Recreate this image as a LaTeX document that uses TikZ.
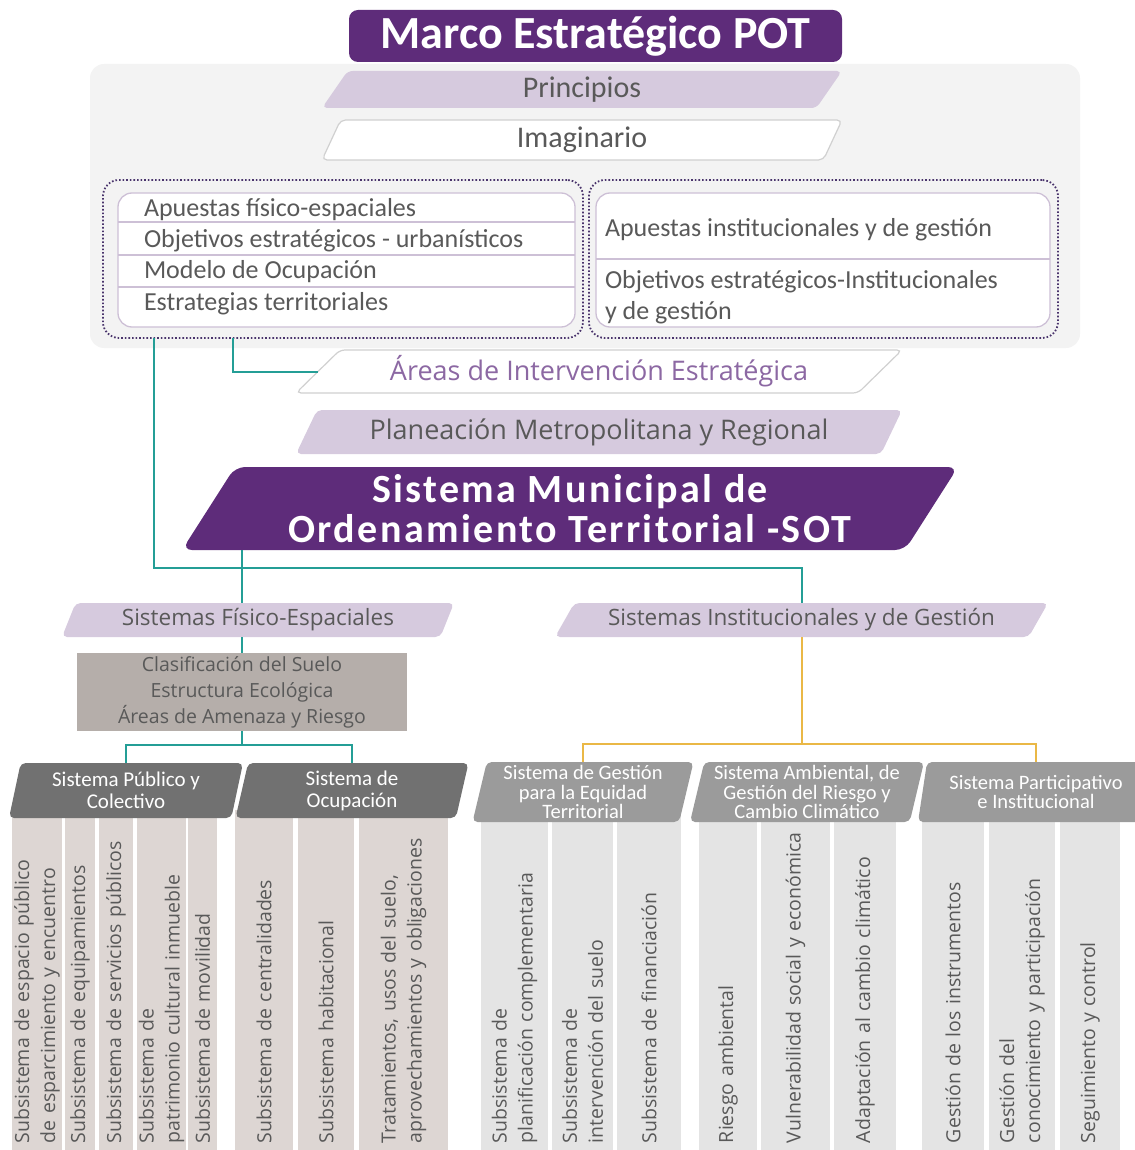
\documentclass[tikz,border=0pt]{standalone}
\usepackage{fontspec}
\setmainfont{Carlito}
\newfontfamily\osans{Open Sans}
\usetikzlibrary{shapes.geometric}
\definecolor{pot}{RGB}{94,44,122}
\definecolor{lila}{RGB}{214,202,222}
\definecolor{lilaline}{RGB}{205,192,214}
\definecolor{dotline}{RGB}{74,52,108}
\definecolor{txt}{RGB}{89,89,89}
\definecolor{aiecol}{RGB}{140,104,163}
\definecolor{panel}{RGB}{243,243,243}
\definecolor{bandline}{RGB}{208,208,208}
\definecolor{clasgray}{RGB}{181,174,170}
\definecolor{hdark}{RGB}{113,113,113}
\definecolor{hlight}{RGB}{155,155,155}
\definecolor{colL}{RGB}{221,214,211}
\definecolor{colR}{RGB}{228,228,228}
\definecolor{tealc}{RGB}{36,158,150}
\definecolor{goldc}{RGB}{234,184,70}
\begin{document}
\begin{tikzpicture}[x=1pt, y=-1pt,
  every node/.style={inner sep=2pt, outer sep=0pt, text=txt},
  band/.style={trapezium, trapezium stretches body, rounded corners=5pt},
  lilaband/.style={band, fill=lila},
  whiteband/.style={band, fill=white, draw=bandline, line width=1.2pt},
  dotbox/.style={draw=dotline, line width=1.8pt, dash pattern=on 1.6pt off 2pt, rounded corners=16pt},
  inbox/.style={draw=lilaline, line width=1.3pt, fill=white, rounded corners=14pt},
  row/.style={anchor=west, font=\fontsize{26}{31}\selectfont, align=left},
  hdrL/.style={band, fill=hdark, text=white, align=center, minimum height=55,
    trapezium left angle=74, trapezium right angle=106, font=\fontsize{21}{22}\selectfont},
  hdrR/.style={band, fill=hlight, text=white, align=center, minimum height=60, inner sep=0pt,
    trapezium left angle=75, trapezium right angle=105, font=\fontsize{20.5}{19.5}\selectfont},
  sub/.style={rotate=90, align=left, text width=326pt, minimum width=340, inner xsep=7pt,
    font=\osans\fontsize{19.5}{26}\selectfont},
  subL/.style={sub, fill=colL},
  subR/.style={sub, fill=colR},
  tealline/.style={draw=tealc, line width=2pt},
  goldline/.style={draw=goldc, line width=2pt}]
  \useasboundingbox (0,0) rectangle (1134,1150);

  \node [fill=panel, rounded corners=14pt, minimum width=990, minimum height=284] (panel) at (585,206) {};
  \node [fill=pot, rounded corners=9pt, minimum width=493, minimum height=52, text=white,
    font=\fontsize{46}{50}\selectfont\bfseries] (pot) at (595.5,36) {Marco Estratégico POT};
  \node [lilaband, trapezium left angle=49, trapezium right angle=131, minimum width=520,
    minimum height=37, font=\fontsize{30}{32}\selectfont] (prin) at (582,89.5) {Principios};
  \node [whiteband, trapezium left angle=58, trapezium right angle=122, minimum width=520,
    minimum height=40, font=\fontsize{30}{32}\selectfont] (imag) at (582,140) {Imaginario};

  \node [dotbox, minimum width=480, minimum height=158] (fisbox) at (343,259) {};
  \node [dotbox, minimum width=469, minimum height=158] (insbox) at (823.5,259) {};
  \node [inbox, minimum width=457, minimum height=134] (fisin) at (346.5,260) {};
  \node [inbox, minimum width=454, minimum height=134] (insin) at (823,260) {};
  \foreach \y in {222,255,287}
    \draw [lilaline, line width=1.2pt] (118,\y) -- (575,\y);
  \draw [lilaline, line width=1.2pt] (596,259) -- (1050,259);
  \node [row] (ap1) at (142,210) {Apuestas físico-espaciales};
  \node [row] (ap2) at (142,241) {Objetivos estratégicos - urbanísticos};
  \node [row] (ap3) at (142,272) {Modelo de Ocupación};
  \node [row] (ap4) at (142,304) {Estrategias territoriales};
  \node [row] (ap5) at (603,230) {Apuestas institucionales y de gestión};
  \node [row] (ap6) at (603,297.5) {Objetivos estratégicos-Institucionales\\y de gestión};

  \node [whiteband, trapezium left angle=39, trapezium right angle=141, minimum width=606,
    minimum height=43, text=aiecol, font=\osans\fontsize{27}{30}\selectfont] (aie) at (599,371.5)
    {Áreas de Intervención Estratégica};
  \node [lilaband, trapezium left angle=56, trapezium right angle=124, minimum width=606,
    minimum height=44, font=\osans\fontsize{27}{30}\selectfont] (pmr) at (599,432)
    {Planeación Metropolitana y Regional};
  \node [band, fill=pot, text=white, rounded corners=10pt, inner sep=1pt, align=center,
    trapezium left angle=53, trapezium right angle=127, minimum width=776, minimum height=83,
    font=\fontsize{40}{40}\selectfont\bfseries\addfontfeatures{LetterSpace=6}] (sot) at (570,508.5)
    {Sistema Municipal de\\Ordenamiento Territorial -SOT};

  \node [lilaband, trapezium left angle=63, trapezium right angle=117, minimum width=392,
    minimum height=34, font=\osans\fontsize{22.5}{26}\selectfont] (sfe) at (258,620)
    {Sistemas Físico-Espaciales};
  \node [lilaband, trapezium left angle=54, trapezium right angle=126, minimum width=493,
    minimum height=34, font=\osans\fontsize{22.5}{26}\selectfont] (sig) at (801.5,620)
    {Sistemas Institucionales y de Gestión};
  \node [fill=clasgray, minimum width=330, minimum height=78, align=center,
    font=\osans\fontsize{19.5}{26}\selectfont] (clas) at (242,692)
    {Clasificación del Suelo\\Estructura Ecológica\\Áreas de Amenaza y Riesgo};

  \node [subL, minimum height=50] (s1) at (37,980) {Subsistema de espacio público\\de esparcimiento y encuentro};
  \node [subL, minimum height=30] (s2) at (80,980) {Subsistema de equipamientos};
  \node [subL, minimum height=34] (s3) at (116,980) {Subsistema de servicios públicos};
  \node [subL, minimum height=47] (s4) at (161.5,980) {Subsistema de\\patrimonio cultural inmueble};
  \node [subL, minimum height=29] (s5) at (202.5,980) {Subsistema de movilidad};
  \node [subL, minimum height=58] (s6) at (264,980) {Subsistema de centralidades};
  \node [subL, minimum height=56] (s7) at (326,980) {Subsistema habitacional};
  \node [subL, minimum height=89] (s8) at (403.5,980) {Tratamientos, usos del suelo,\\aprovechamientos y obligaciones};
  \node [subR, minimum height=67] (s9) at (514.5,980) {Subsistema de\\planificación complementaria};
  \node [subR, minimum height=61] (s10) at (582.5,980) {Subsistema de\\intervención del suelo};
  \node [subR, minimum height=64] (s11) at (649,980) {Subsistema de financiación};
  \node [subR, minimum height=58] (s12) at (728,980) {Riesgo ambiental};
  \node [subR, minimum height=69] (s13) at (795.5,980) {Vulnerabilidad social y económica};
  \node [subR, minimum height=62] (s14) at (865,980) {Adaptación al cambio climático};
  \node [subR, minimum height=62] (s15) at (953,980) {Gestión de los instrumentos};
  \node [subR, minimum height=66] (s16) at (1022,980) {Gestión del\\conocimiento y participación};
  \node [subR, minimum height=60] (s17) at (1090,980) {Seguimiento y control};

  \node [hdrL, minimum width=234] (pub) at (126,790.5) {Sistema Público y\\Colectivo};
  \node [hdrL, minimum width=233] (ocu) at (352,790.5) {Sistema de\\Ocupación};
  \node [hdrR, minimum width=221] (equ) at (583,792) {Sistema de Gestión\\para la Equidad\\Territorial};
  \node [hdrR, minimum width=234] (amb) at (807,792) {Sistema Ambiental, de\\Gestión del Riesgo y\\Cambio Climático};
  \node [hdrR, minimum width=236] (par) at (1036,792) {Sistema Participativo\\e Institucional};

  \coordinate (tA) at (154,568);
  \coordinate (tB) at (233,372);
  \draw [tealline] (fisbox.south -| tA) -- (tA) -| (sig.north);
  \draw [tealline] (fisbox.south -| tB) |- (aie.left side);
  \draw [tealline] (sot.south -| clas.north) -- (sfe.north -| clas.north);
  \draw [tealline] (sfe.south -| clas.north) -- (clas.north);
  \draw [tealline] (clas.south) -- ++(0,14) -| (pub.north);
  \draw [tealline] (clas.south) -- ++(0,14) -| (ocu.north);
  \draw [goldline] (sig.south) -- ++(0,107) -| (equ.north);
  \draw [goldline] (sig.south) -- ++(0,107) -| (par.north);
\end{tikzpicture}
\end{document}
